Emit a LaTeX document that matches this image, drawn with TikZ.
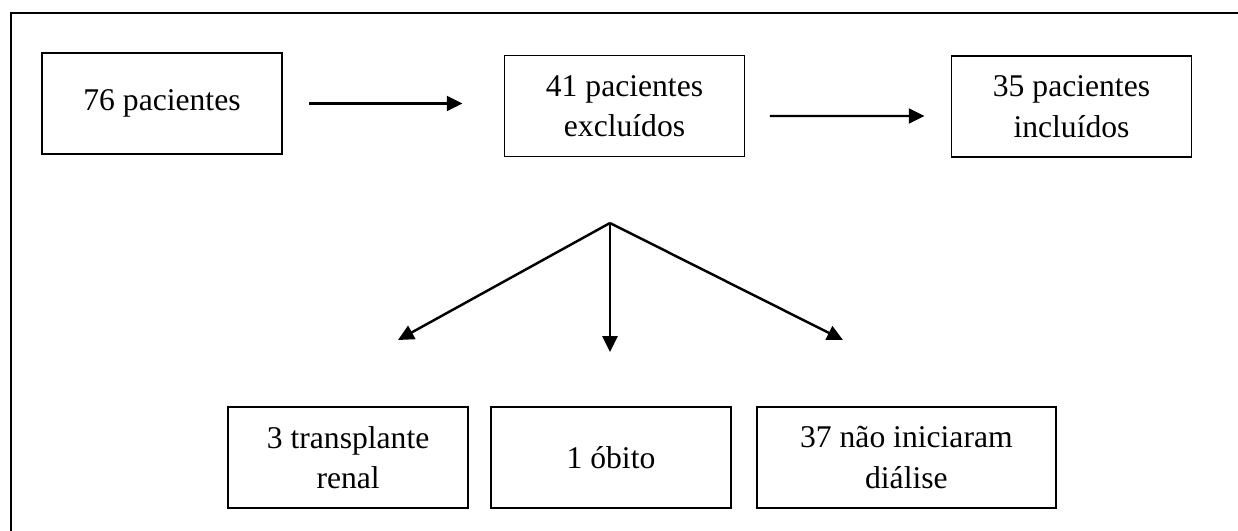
\documentclass[tikz,border=0pt]{standalone}
\usepackage{fontspec}
\setmainfont{Liberation Serif}
\usetikzlibrary{arrows.meta,positioning}

\begin{document}
\begin{tikzpicture}[x=0.02cm,y=-0.02cm,>={Triangle[length=9pt,width=8.5pt]},font=\fontsize{18}{23}\selectfont]
\tikzstyle{flowbox}=[draw=black,line width=1.1pt,align=center,minimum width=4.8cm,minimum height=2.02cm,inner sep=0pt]
\tikzstyle{flowarrow}=[->,line width=1.4pt]
\useasboundingbox (0,0) rectangle (1238,531);
\draw[line width=1.4pt] (11,531) -- (11,13) -- (1238,13);

\node[flowbox] (p76) at (162,103.5) {76 pacientes};
\node[flowbox] (excl) at (624.5,106) {41 pacientes\\excluídos};
\node[flowbox] (incl) at (1071.5,106.5) {35 pacientes\\incluídos};

\node[flowbox] (obito) at (611,457.5) {1 óbito};
\node[flowbox,left=4.2mm of obito] (tx) {3 transplante\\renal};
\node[flowbox,right=4.8mm of obito,minimum width=5.98cm] (dial) {37 não iniciaram\\diálise};

\coordinate (fork) at (610,223);
\coordinate (tipL) at (398,340);
\coordinate (tipM) at (610,352);
\coordinate (tipR) at (843,340);

\draw[flowarrow] ([xshift=5.2mm]p76.east) -- ([xshift=-8.2mm]excl.west |- p76.east);
\draw[flowarrow] ([xshift=4.9mm,yshift=-2mm]excl.east) -- ([xshift=-5.2mm,yshift=-1.9mm]incl.west);
\draw[flowarrow] (fork) -- (tipL);
\draw[flowarrow] (fork) -- (tipM);
\draw[flowarrow] (fork) -- (tipR);
\end{tikzpicture}
\end{document}
